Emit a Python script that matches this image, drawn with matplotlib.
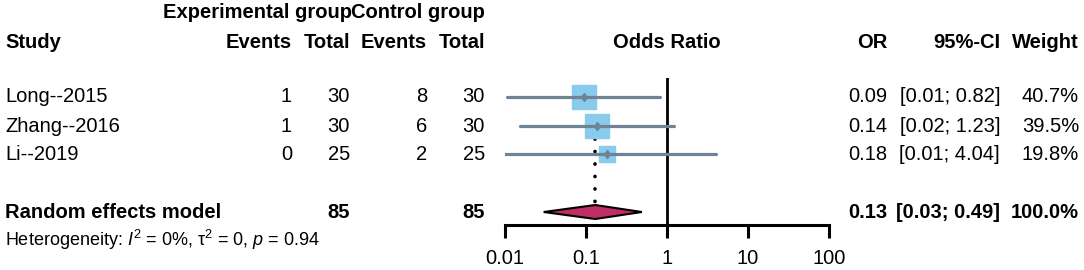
import matplotlib.pyplot as plt
from matplotlib.patches import Polygon
import numpy as np

plt.rcParams['font.family'] = ['Liberation Sans', 'DejaVu Sans']
plt.rcParams['mathtext.fontset'] = 'custom'
plt.rcParams['mathtext.rm'] = 'Liberation Sans'
plt.rcParams['mathtext.it'] = 'Liberation Sans:italic'

# data
studies = ["Long--2015", "Zhang--2016", "Li--2019"]
exp_events = [1, 1, 0]
exp_total = [30, 30, 25]
ctl_events = [8, 6, 2]
ctl_total = [30, 30, 25]
odds = [0.094, 0.138, 0.183]
or_text = ["0.09", "0.14", "0.18"]
ci_low = [0.0106, 0.0152, 0.0080]
ci_high = [0.82, 1.23, 4.04]
weights = [40.7, 39.5, 19.8]

pooled_or = 0.13
pooled_low = 0.030
pooled_high = 0.49
pooled_exp_total = 85
pooled_ctl_total = 85

ticks = [0.01, 0.1, 1, 10, 100]
tick_labels = ["0.01", "0.1", "1", "10", "100"]

W, H = 1084, 270
fig = plt.figure(figsize=(W / 100, H / 100), dpi=100)

# text layer in pixel coords
bg = fig.add_axes([0, 0, 1, 1])
bg.set_xlim(0, W)
bg.set_ylim(H, 0)
bg.axis('off')

fs = 14.5
row_y = [97, 126, 154]
sum_y = 212

def txt(x, y, s, ha='right', bold=False, size=fs):
    bg.text(x, y, s, ha=ha, va='center', fontsize=size,
            fontweight='bold' if bold else 'normal')

# headers
txt(352, 13, "Experimental group", bold=True)
txt(485, 13, "Control group", bold=True)
txt(5, 42, "Study", ha='left', bold=True)
txt(292, 42, "Events", bold=True)
txt(350, 42, "Total", bold=True)
txt(427, 42, "Events", bold=True)
txt(485, 42, "Total", bold=True)
txt(667, 42, "Odds Ratio", ha='center', bold=True)
txt(887, 42, "OR", bold=True)
txt(1000, 42, "95%-CI", bold=True)
txt(1079, 42, "Weight", bold=True)

for i, y in enumerate(row_y):
    txt(5, y, studies[i], ha='left')
    txt(292, y, str(exp_events[i]))
    txt(350, y, str(exp_total[i]))
    txt(427, y, str(ctl_events[i]))
    txt(485, y, str(ctl_total[i]))
    txt(887, y, or_text[i])
    txt(1000, y, "[%.2f; %.2f]" % (ci_low[i], ci_high[i]))
    txt(1079, y, "%.1f%%" % weights[i])

txt(5, sum_y, "Random effects model", ha='left', bold=True)
txt(350, sum_y, str(pooled_exp_total), bold=True)
txt(485, sum_y, str(pooled_ctl_total), bold=True)
txt(887, sum_y, "%.2f" % pooled_or, bold=True)
txt(1000, sum_y, "[%.2f; %.2f]" % (pooled_low, pooled_high), bold=True)
txt(1079, sum_y, "%.1f%%" % 100.0, bold=True)
txt(5, 240, r"Heterogeneity: $I^2$ = 0%, $\mathrm{\tau}^2$ = 0, $p$ = 0.94",
    ha='left', size=13)

# forest panel: x in log scale, y in pixel rows
x0, x1 = 505, 829
ytop, yaxis = 78, 225
ax = fig.add_axes([x0 / W, (H - yaxis) / H, (x1 - x0) / W, (yaxis - ytop) / H])
ax.patch.set_alpha(0)
ax.set_xscale('log')
ax.set_xlim(ticks[0], ticks[-1])
ax.set_ylim(yaxis, ytop)
for s in ['top', 'right', 'left']:
    ax.spines[s].set_visible(False)
ax.spines['bottom'].set_linewidth(2.2)
ax.set_yticks([])
ax.set_xticks(ticks)
ax.set_xticklabels(tick_labels)
ax.minorticks_off()
ax.tick_params(axis='x', length=9, width=2.2, pad=8, labelsize=fs)

ax.axvline(1, color='black', lw=2, zorder=1)
ax.plot([pooled_or, pooled_or], [row_y[1] + 13, sum_y - 7], color='black', lw=2.6,
        linestyle=(0, (0.05, 3.4)), dash_capstyle='round', zorder=1)

line_c = '#6f8296'
box_c = '#88cbec'
wmax = max(weights)
for i, y in enumerate(row_y):
    ax.plot([ci_low[i], ci_high[i]], [y, y], color=line_c, lw=2.3,
            solid_capstyle='round', zorder=3)
    ax.plot(odds[i], y, marker='s', ms=17.5 * np.sqrt(weights[i] / wmax),
            color=box_c, mec=box_c, zorder=2)
    ax.plot(odds[i], y, marker='d', ms=4.5, color=line_c, zorder=4)

diamond = Polygon([(pooled_low, sum_y), (pooled_or, sum_y - 7),
                   (pooled_high, sum_y), (pooled_or, sum_y + 7)],
                  closed=True, facecolor='#bf2f66', edgecolor='black',
                  lw=1.5, zorder=3)
ax.add_patch(diamond)

fig.savefig('out.png', dpi=100)
